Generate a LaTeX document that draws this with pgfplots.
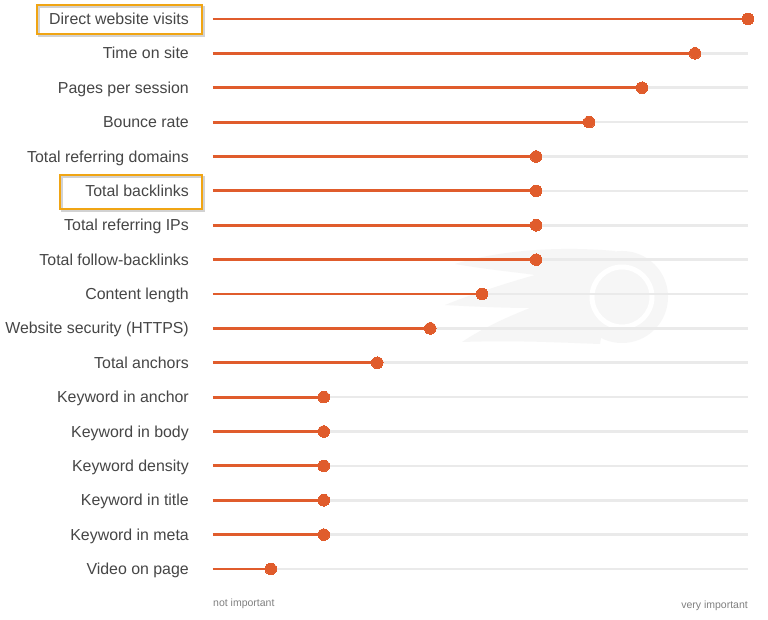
\documentclass[border=0pt]{standalone}
\usepackage{pgfplots}
\pgfplotsset{compat=1.18}
\usepackage{fontspec}
\setmainfont{Liberation Sans}
\definecolor{dotorange}{RGB}{224,92,44}
\definecolor{bggray}{RGB}{234,234,234}
\definecolor{lblgray}{RGB}{70,70,70}
\definecolor{boxorange}{RGB}{240,165,20}
\definecolor{wmgray}{RGB}{246,246,246}
\begin{document}
\begin{tikzpicture}
\useasboundingbox (0,0) rectangle (768pt,620pt);
\fill[white] (0,0) rectangle (768pt,620pt);
% faint watermark logo
\fill[wmgray] (622pt,323pt) circle (46pt);
\fill[wmgray] (615pt,369pt) .. controls (560pt,374pt) and (500pt,370pt) .. (455pt,356pt)
  .. controls (490pt,350pt) and (515pt,348pt) .. (535pt,345pt)
  .. controls (500pt,335pt) and (470pt,325pt) .. (445pt,315pt)
  .. controls (480pt,313pt) and (510pt,312pt) .. (530pt,312pt)
  .. controls (500pt,300pt) and (480pt,290pt) .. (462pt,278pt)
  .. controls (520pt,280pt) and (570pt,277pt) .. (600pt,276pt) -- cycle;
\draw[white, line width=5pt] (622pt,323pt) circle (30pt);
\begin{axis}[
  at={(213pt,51pt)}, anchor=south west,
  scale only axis, width=535pt, height=550pt,
  xmin=0, xmax=10, ymin=1, ymax=17, y dir=reverse,
  enlargelimits=false, clip=false,
  axis line style={draw=none},
  major tick length=0pt,
  xtick=\empty,
  ytick={1,...,17},
  yticklabels={Direct website visits,Time on site,Pages per session,Bounce rate,Total referring domains,Total backlinks,Total referring IPs,Total follow-backlinks,Content length,Website security (HTTPS),Total anchors,Keyword in anchor,Keyword in body,Keyword density,Keyword in title,Keyword in meta,Video on page},
  yticklabel style={anchor=base east, inner sep=0pt, xshift=-24pt, yshift=-5.6pt, text=lblgray, font=\fontsize{15.9}{19}\selectfont},
]
\addplot[xcomb, draw=bggray, line width=2.6pt] coordinates {
(10,1)(10,2)(10,3)(10,4)(10,5)(10,6)(10,7)(10,8)(10,9)(10,10)(10,11)(10,12)(10,13)(10,14)(10,15)(10,16)(10,17)};
\addplot[xcomb, draw=dotorange, line width=2.8pt, mark=*, mark size=5.8pt, mark options={fill=dotorange, draw=dotorange, line width=0pt}] coordinates {
(10,1)(9.01,2)(8.02,3)(7.03,4)(6.04,5)(6.04,6)(6.04,7)(6.04,8)(5.03,9)(4.06,10)(3.07,11)(2.07,12)(2.07,13)(2.07,14)(2.07,15)(2.07,16)(1.08,17)};
\node[anchor=west, inner sep=0pt, text=gray, font=\fontsize{10.5}{12}\selectfont] at (axis cs:0,18.02) {not important};
\node[anchor=east, inner sep=0pt, text=gray, font=\fontsize{10.5}{12}\selectfont] at (axis cs:10,18.06) {very important};
\end{axis}
% highlight boxes
\draw[black!35, line width=2.5pt, opacity=0.5] (39pt,584pt) rectangle (204pt,613pt);
\draw[boxorange, line width=2.6pt] (37pt,586pt) rectangle (202pt,615pt);
\draw[black!35, line width=2.5pt, opacity=0.5] (62pt,409pt) rectangle (204pt,443pt);
\draw[boxorange, line width=2.6pt] (60pt,411pt) rectangle (202pt,445pt);
\end{tikzpicture}
\end{document}
